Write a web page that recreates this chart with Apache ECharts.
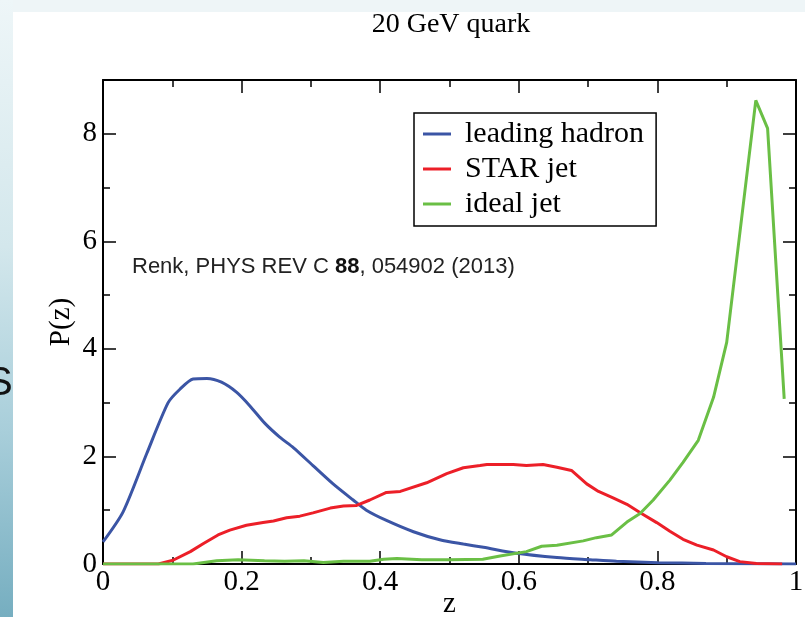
<!DOCTYPE html>
<html>
<head>
<meta charset="utf-8">
<script src="https://cdn.jsdelivr.net/npm/echarts@6/dist/echarts.min.js"></script>
<style>html,body{margin:0;padding:0;background:#fff;}#c{width:805px;height:617px;}</style>
</head>
<body>
<div id="c"></div>
<script>
// ---- data ----
var seriesNames = ['leading hadron', 'STAR jet', 'ideal jet'];
var xTicks = [0, 0.2, 0.4, 0.6, 0.8, 1];
var yTicks = [0, 2, 4, 6, 8];

var zLeading = [0, 0.029, 0.063, 0.094, 0.111, 0.13, 0.15, 0.171, 0.193, 0.212, 0.234, 0.255, 0.275, 0.303, 0.332, 0.361, 0.38, 0.409, 0.448, 0.486, 0.52, 0.549, 0.597, 0.655, 0.703, 0.741, 0.801, 0.87, 1.0];
var pLeading = [0.41, 0.97, 2.05, 3.0, 3.25, 3.44, 3.45, 3.38, 3.19, 2.94, 2.61, 2.36, 2.16, 1.83, 1.49, 1.19, 1.0, 0.81, 0.60, 0.45, 0.37, 0.31, 0.2, 0.12, 0.08, 0.05, 0.025, 0.01, 0];

var zStar = [0, 0.08, 0.101, 0.126, 0.145, 0.166, 0.183, 0.207, 0.231, 0.246, 0.265, 0.284, 0.303, 0.328, 0.347, 0.366, 0.385, 0.409, 0.429, 0.467, 0.496, 0.52, 0.544, 0.554, 0.592, 0.611, 0.635, 0.655, 0.676, 0.698, 0.715, 0.736, 0.756, 0.777, 0.799, 0.818, 0.837, 0.857, 0.881, 0.9, 0.919, 0.943, 0.98];
var pStar = [0, 0, 0.07, 0.23, 0.38, 0.54, 0.63, 0.72, 0.77, 0.80, 0.86, 0.89, 0.95, 1.04, 1.08, 1.09, 1.19, 1.33, 1.35, 1.51, 1.68, 1.79, 1.83, 1.85, 1.85, 1.83, 1.85, 1.80, 1.74, 1.49, 1.35, 1.23, 1.11, 0.94, 0.77, 0.61, 0.46, 0.35, 0.26, 0.135, 0.044, 0.01, 0];

var zIdeal = [0, 0.13, 0.164, 0.195, 0.233, 0.262, 0.29, 0.318, 0.347, 0.385, 0.405, 0.424, 0.46, 0.5, 0.548, 0.573, 0.611, 0.633, 0.655, 0.693, 0.712, 0.734, 0.756, 0.775, 0.794, 0.818, 0.837, 0.859, 0.881, 0.9, 0.942, 0.959, 0.983];
var pIdeal = [0, 0, 0.06, 0.08, 0.06, 0.05, 0.06, 0.03, 0.05, 0.05, 0.09, 0.1, 0.08, 0.08, 0.09, 0.15, 0.23, 0.33, 0.35, 0.43, 0.49, 0.54, 0.78, 0.94, 1.19, 1.56, 1.89, 2.30, 3.10, 4.12, 8.62, 8.10, 3.07];

function zip(xs, ys) { return xs.map(function (x, i) { return [x, ys[i]]; }); }

var colors = ['#3b55a5', '#ec1f28', '#6abf45'];
var serif = 'Liberation Serif';

var chart = echarts.init(document.getElementById('c'), null, {renderer: 'canvas'});

function frameAxis(pos, isX, showLabel) {
  return {
    type: 'value',
    position: pos,
    min: isX ? xTicks[0] : yTicks[0],
    max: isX ? xTicks[xTicks.length - 1] : 9,
    interval: isX ? (xTicks[1] - xTicks[0]) : (yTicks[1] - yTicks[0]),
    splitLine: {show: false},
    axisLine: {show: true, onZero: false, lineStyle: {color: '#000', width: 2}},
    axisTick: {show: true, inside: true, length: 13, lineStyle: {color: '#000', width: 1.5}},
    minorTick: {show: true, splitNumber: 2, length: 7, lineStyle: {color: '#000', width: 1.5}},
    axisLabel: {show: showLabel, color: '#000', fontFamily: serif, fontSize: 29, margin: isX ? 4 : 6, showMaxLabel: isX ? true : false}
  };
}

var xMain = frameAxis('bottom', true, true);
xMain.name = 'z'; xMain.nameLocation = 'middle'; xMain.nameGap = 26; xMain.nameMoveOverlap = false;
xMain.nameTextStyle = {color: '#000', fontFamily: serif, fontSize: 29};
var yMain = frameAxis('left', false, true);
yMain.name = 'P(z)'; yMain.nameLocation = 'middle'; yMain.nameGap = 27; yMain.nameMoveOverlap = false;
yMain.nameTextStyle = {color: '#000', fontFamily: serif, fontSize: 29};

var option = {
  backgroundColor: '#eef5f7',
  animation: false,
  title: {
    text: '20 GeV quark', left: 451, top: 11, textAlign: 'center', padding: 0,
    textStyle: {fontFamily: serif, fontSize: 28, fontWeight: 'normal', color: '#000'}
  },
  grid: {left: 103, right: 9, top: 80, bottom: 53, containLabel: false, outerBoundsMode: 'none'},
  xAxis: [xMain, frameAxis('top', true, false)],
  yAxis: [yMain, frameAxis('right', false, false)],
  legend: {
    data: seriesNames,
    orient: 'vertical',
    left: 414, top: 113,
    padding: [6, 12, 7, 9],
    itemGap: 5,
    itemWidth: 28, itemHeight: 3,
    icon: 'rect',
    borderColor: '#000', borderWidth: 1.5,
    backgroundColor: '#fff',
    textStyle: {fontFamily: serif, fontSize: 30, color: '#000', padding: [0, 0, 0, 9], lineHeight: 30}
  },
  graphic: [
    {type: 'rect', z: -100, silent: true, shape: {x: 13, y: 12, width: 805, height: 617}, style: {fill: '#fff'}},
    {type: 'rect', z: -100, silent: true, shape: {x: 0, y: 0, width: 13, height: 617},
      style: {fill: new echarts.graphic.LinearGradient(0, 0, 0, 1, [
        {offset: 0, color: '#eef6f8'}, {offset: 0.4, color: '#d3e7ec'},
        {offset: 0.7, color: '#a8ceda'}, {offset: 1, color: '#76aec0'}])}},
    {type: 'text', z: -90, silent: true, left: -14, top: 364,
      style: {text: 'S', font: '40px "Liberation Sans"', fill: '#111'}},
    {type: 'text', left: 132, top: 256, silent: true,
      style: {
        text: '{a|Renk, PHYS REV C }{b|88}{a|, 054902 (2013)}',
        rich: {
          a: {fontFamily: 'Liberation Sans', fontSize: 22, fill: '#222', color: '#222'},
          b: {fontFamily: 'Liberation Sans', fontSize: 22, fontWeight: 'bold', fill: '#111', color: '#111'}
        }
      }}
  ],
  series: [
    {name: seriesNames[0], type: 'line', data: zip(zLeading, pLeading), showSymbol: false, smooth: 0.25,
      lineStyle: {color: colors[0], width: 3}, itemStyle: {color: colors[0]}},
    {name: seriesNames[1], type: 'line', data: zip(zStar, pStar), showSymbol: false,
      lineStyle: {color: colors[1], width: 3}, itemStyle: {color: colors[1]}},
    {name: seriesNames[2], type: 'line', data: zip(zIdeal, pIdeal), showSymbol: false,
      lineStyle: {color: colors[2], width: 3}, itemStyle: {color: colors[2]}}
  ]
};
chart.setOption(option);
</script>
</body>
</html>
